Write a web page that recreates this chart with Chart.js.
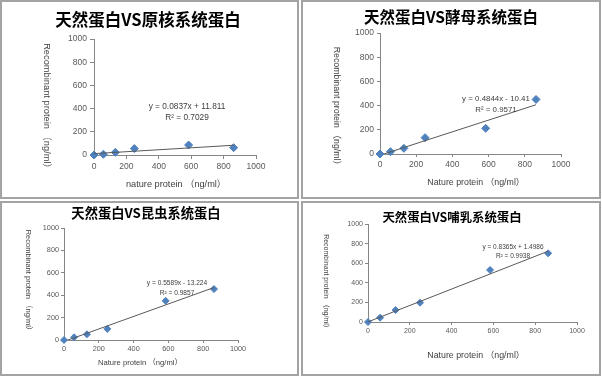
<!DOCTYPE html>
<html>
<head>
<meta charset="utf-8">
<script src="https://cdn.jsdelivr.net/npm/chart.js@4.4.1/dist/chart.umd.min.js"></script>
<style>
body { margin: 0; background: #fff; }
.panel { position: absolute; box-sizing: border-box; border: 2px solid #a3a3a3; background: #fff; }
.panel canvas { display: block; }
</style>
</head>
<body>
<div class="panel" style="left:0;top:0;width:299px;height:199px"><canvas id="c0" width="295" height="195"></canvas></div>
<div class="panel" style="left:301px;top:0;width:300px;height:199px"><canvas id="c1" width="296" height="195"></canvas></div>
<div class="panel" style="left:0;top:201px;width:299px;height:175px"><canvas id="c2" width="295" height="171"></canvas></div>
<div class="panel" style="left:301px;top:201px;width:300px;height:175px"><canvas id="c3" width="296" height="171"></canvas></div>
<script>
// data
var natureProtein = [0, 58, 132, 249, 584, 862];
var prokaryotic = [0, 6, 23, 55, 86, 63];
var yeast = [0, 19, 47, 135, 212, 451];
var insect = [0, 24, 51, 99, 350, 455];
var mammal = [0, 44, 122, 197, 531, 701];
var chartTitles = ['天然蛋白VS原核系统蛋白', '天然蛋白VS酵母系统蛋白', '天然蛋白VS昆虫系统蛋白', '天然蛋白VS哺乳系统蛋白'];
var slopes = [0.0837, 0.4844, 0.5589, 0.8365];
var intercepts = [11.811, -10.41, -13.224, 1.4986];
var rSquared = ['0.7029', '0.9571', '0.9857', '0.9938'];
var xTitles = ['nature protein （ng/ml）', 'Nature protein （ng/ml）', 'Nature protein （ng/ml）', 'Nature protein （ng/ml）'];
var yTitle = 'Recombinant protein （ng/ml）';
var axisTicks = [0, 200, 400, 600, 800, 1000];
var series = [prokaryotic, yeast, insect, mammal];

// layout of each panel, in page pixels
var layouts = [
    {ox: 2, oy: 2, w: 295, h: 195, plot: [94, 256, 39, 155], title: [148, 20, 16.5], eq: [187, 107, 118, 8.3], xt: [176, 184, 9.2], yt: [47, 108, 9.3], tick: 8.5, tl: 4, pad: 3, r: 4},
    {ox: 303, oy: 2, w: 296, h: 195, plot: [380, 561, 33, 154], title: [451, 17, 15.5], eq: [496, 99, 110, 7.9], xt: [476, 183, 8.8], yt: [336, 108, 8.8], tick: 8.5, tl: 3, pad: 3, r: 4},
    {ox: 2, oy: 203, w: 295, h: 171, plot: [64, 238, 228, 340], title: [146, 213, 13.3], eq: [177, 283, 293, 6.6], xt: [140, 363, 7.6], yt: [28, 282, 7.5], tick: 7.3, tl: 3, pad: 2, r: 3.5},
    {ox: 303, oy: 203, w: 296, h: 171, plot: [368, 577, 224, 322], title: [452, 217, 12.4], eq: [513, 247, 256, 6.5], xt: [476, 356, 8.8], yt: [326, 283, 7], tick: 7, tl: 3, pad: 2, r: 3.5}
];

var SANS = '"Liberation Sans", Arial, sans-serif';
var AXIS_W = 40, AXIS_H = 20;

function fmtEq(i) {
    var b = intercepts[i];
    return 'y = ' + slopes[i] + 'x ' + (b < 0 ? '- ' : '+ ') + Math.abs(b);
}

var textPlugin = {
    id: 'panelText',
    afterDraw: function (chart) {
        var i = chart.options.plugins.panelText.index;
        var L = layouts[i];
        var ctx = chart.ctx;
        ctx.save();
        ctx.textAlign = 'center';
        ctx.textBaseline = 'middle';
        ctx.fillStyle = '#000';
        ctx.font = 'bold ' + L.title[2] + 'px "Noto Sans CJK SC", sans-serif';
        ctx.fillText(chartTitles[i], L.title[0] - L.ox, L.title[1] - L.oy);
        ctx.fillStyle = '#404040';
        ctx.font = L.eq[3] + 'px ' + SANS;
        ctx.fillText(fmtEq(i), L.eq[0] - L.ox, L.eq[1] - L.oy);
        ctx.fillText('R² = ' + rSquared[i], L.eq[0] - L.ox, L.eq[2] - L.oy);
        ctx.font = L.xt[2] + 'px ' + SANS + ', "Noto Sans CJK SC"';
        ctx.fillText(xTitles[i], L.xt[0] - L.ox, L.xt[1] - L.oy);
        ctx.translate(L.yt[0] - L.ox, L.yt[1] - L.oy);
        ctx.rotate(Math.PI / 2);
        ctx.font = L.yt[2] + 'px ' + SANS + ', "Noto Sans CJK SC"';
        ctx.fillText(yTitle, 0, 0);
        ctx.restore();
    }
};

function axis(L, isX) {
    return {
        type: 'linear',
        min: 0,
        max: 1000,
        afterBuildTicks: function (s) { s.ticks = axisTicks.map(function (v) { return {value: v}; }); },
        afterFit: function (s) { if (isX) s.height = AXIS_H; else s.width = AXIS_W; },
        border: {display: true, color: '#868686', width: 1},
        grid: {display: true, drawOnChartArea: false, drawTicks: true, tickLength: L.tl, color: '#868686'},
        ticks: {
            color: '#595959',
            font: {family: SANS, size: L.tick},
            padding: L.pad,
            maxRotation: 0,
            autoSkip: false,
            callback: function (v) { return String(v); }
        }
    };
}

layouts.forEach(function (L, i) {
    var pts = natureProtein.map(function (x, k) { return {x: x, y: series[i][k]}; });
    var xMax = Math.max.apply(null, natureProtein);
    var trend = [0, xMax].map(function (x) { return {x: x, y: slopes[i] * x + intercepts[i]}; });
    new Chart(document.getElementById('c' + i), {
        type: 'scatter',
        data: {
            datasets: [{
                data: trend,
                showLine: true,
                borderColor: '#595959',
                borderWidth: 1,
                pointRadius: 0,
                clip: 0
            }, {
                data: pts,
                pointStyle: 'rectRot',
                pointRadius: L.r,
                backgroundColor: '#4F81BD',
                borderColor: '#4F81BD',
                borderWidth: 1,
                clip: false
            }]
        },
        options: {
            responsive: false,
            animation: false,
            devicePixelRatio: 1,
            layout: {
                padding: {
                    left: L.plot[0] - L.ox - AXIS_W,
                    right: L.w - (L.plot[1] - L.ox),
                    top: L.plot[2] - L.oy,
                    bottom: L.h - (L.plot[3] - L.oy) - AXIS_H
                }
            },
            scales: {x: axis(L, true), y: axis(L, false)},
            plugins: {legend: {display: false}, tooltip: {enabled: false}, panelText: {index: i}}
        },
        plugins: [textPlugin]
    });
});
</script>
</body>
</html>
